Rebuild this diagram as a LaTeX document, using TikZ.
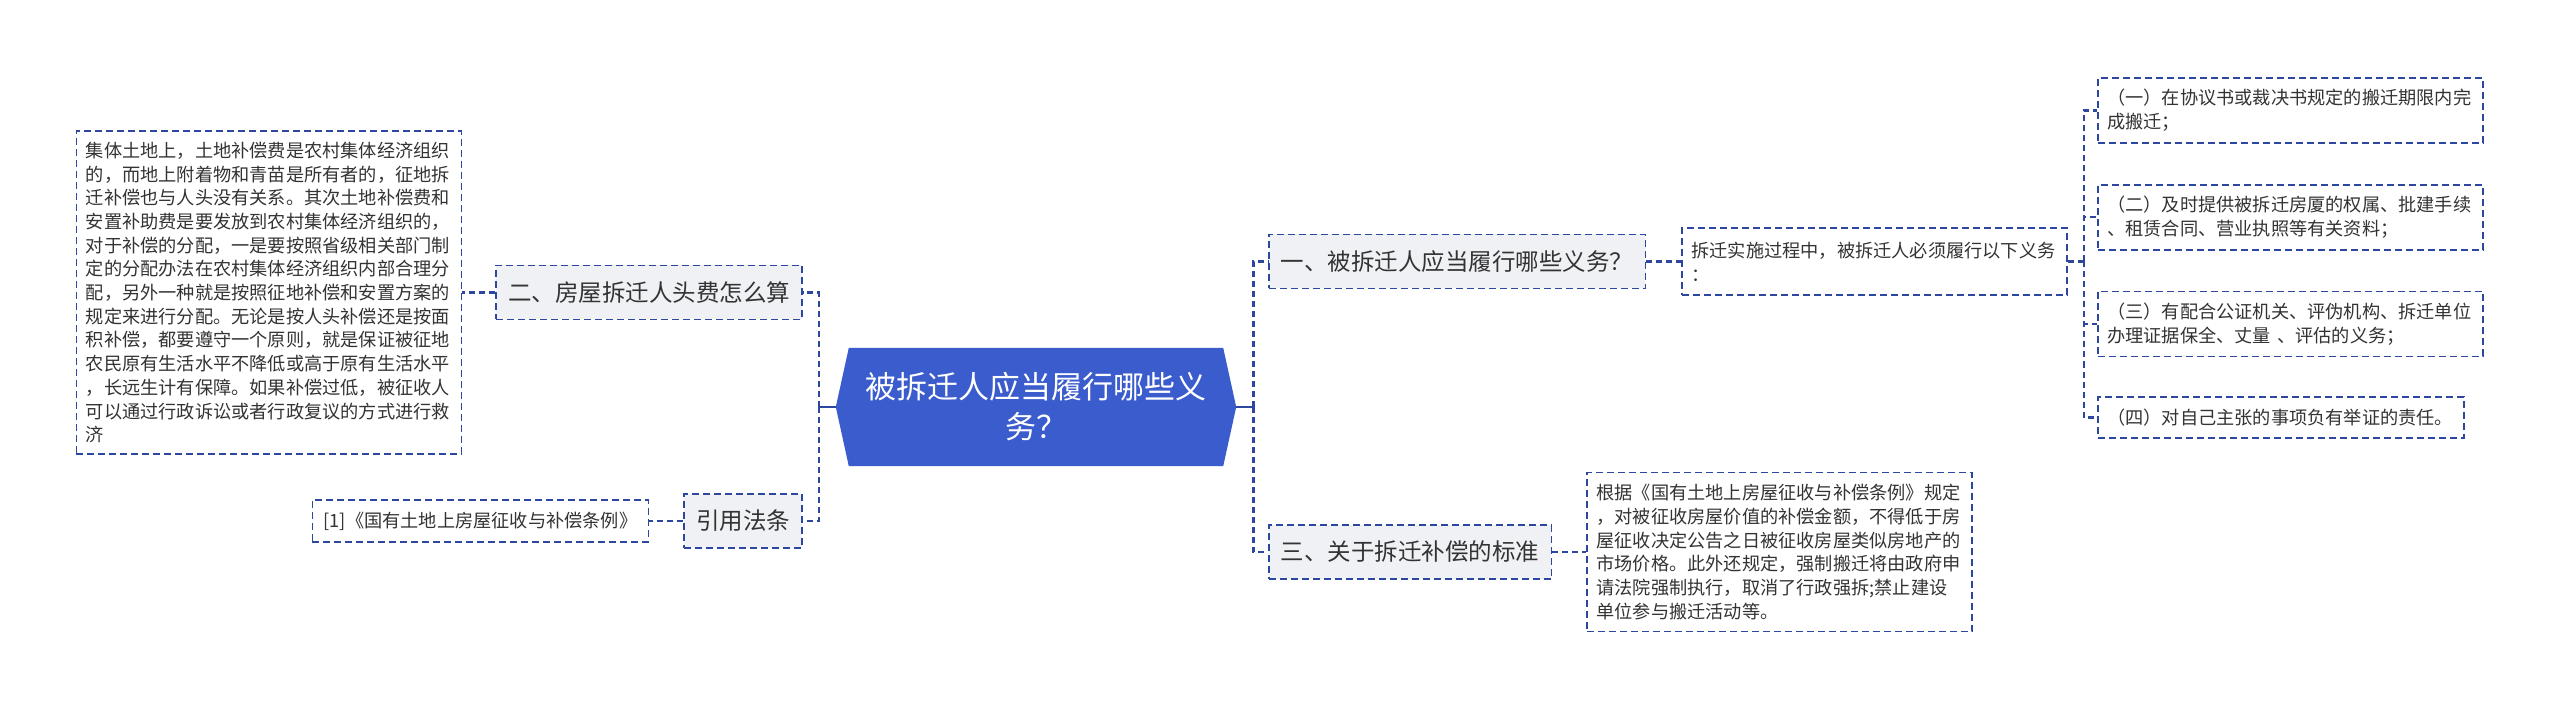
\documentclass[tikz,border=0pt]{standalone}
\usepackage{fontspec}
\newfontfamily\cjk{Noto Sans CJK SC}
\usepackage{tikz}
\usetikzlibrary{positioning,backgrounds}
\usepackage{xcolor}
\definecolor{TopicBlue}{RGB}{59,92,204}
\definecolor{LineBlue}{RGB}{45,70,160}
\definecolor{BoxGray}{RGB}{239,241,245}
\definecolor{InkText}{RGB}{51,51,51}

\begin{document}
\begin{tikzpicture}[
    x=1pt, y=-1pt,
    topic/.style={rectangle, minimum width=400pt, minimum height=118pt, inner sep=0pt,
        text=white, align=center, font=\cjk\fontsize{31pt}{40pt}\selectfont},
    card/.style={rectangle, draw=LineBlue, line width=1.7pt, dash pattern=on 7pt off 4pt, text=InkText},
    branch/.style={card, fill=BoxGray, inner xsep=12pt, minimum height=54pt,
        font=\cjk\fontsize{23.5pt}{28pt}\selectfont},
    note/.style={card, fill=white, inner xsep=9.5pt, inner ysep=6pt,
        font=\cjk\fontsize{18.2pt}{23.7pt}\selectfont},
    leaf/.style={note, text width=366pt, align=left},
    link/.style={draw=LineBlue, line width=2.6pt, dash pattern=on 6pt off 4pt},
    stem/.style={draw=LineBlue, line width=2.6pt}
]
\useasboundingbox (0,0) rectangle (2560,711);
\node[topic] (c) at (1036,407) {被拆迁人应当履行哪些义\\务？};
\begin{scope}[on background layer]
\fill[white] (0,0) rectangle (2560,711);
\fill[TopicBlue] (c.west) -- ([xshift=13pt]c.north west) -- ([xshift=-13pt]c.north east) -- (c.east)
    -- ([xshift=-13pt]c.south east) -- ([xshift=13pt]c.south west) -- cycle;
\end{scope}

\node[branch, anchor=east] (n2) at (803,292.5) {二、房屋拆迁人头费怎么算};
\node[branch, anchor=east] (law) at (803,521) {引用法条};
\node[branch, anchor=west] (n1) at (1268,261.5) {一、被拆迁人应当履行哪些义务？};
\node[branch, anchor=west] (n3) at (1268,552) {三、关于拆迁补偿的标准};

\node[leaf, left=33pt of n2, minimum height=323pt] (t2) {集体土地上，土地补偿费是农村集体经济组织\\的，而地上附着物和青苗是所有者的，征地拆\\迁补偿也与人头没有关系。其次土地补偿费和\\安置补助费是要发放到农村集体经济组织的，\\对于补偿的分配，一是要按照省级相关部门制\\定的分配办法在农村集体经济组织内部合理分\\配，另外一种就是按照征地补偿和安置方案的\\规定来进行分配。无论是按人头补偿还是按面\\积补偿，都要遵守一个原则，就是保证被征地\\农民原有生活水平不降低或高于原有生活水平\\，长远生计有保障。如果补偿过低，被征收人\\可以通过行政诉讼或者行政复议的方式进行救\\济};
\node[note, left=34pt of law, minimum width=336pt, minimum height=42pt] (ref) {[1]《国有土地上房屋征收与补偿条例》};
\node[leaf, right=35pt of n1, minimum height=67pt] (d1) {拆迁实施过程中，被拆迁人必须履行以下义务\\：};
\node[leaf, right=34pt of n3, minimum height=159pt] (d3) {根据《国有土地上房屋征收与补偿条例》规定\\，对被征收房屋价值的补偿金额，不得低于房\\屋征收决定公告之日被征收房屋类似房地产的\\市场价格。此外还规定，强制搬迁将由政府申\\请法院强制执行，取消了行政强拆;禁止建设\\单位参与搬迁活动等。};

\node[leaf, anchor=west, minimum height=65pt] (i1) at (2097,110.5) {（一）在协议书或裁决书规定的搬迁期限内完\\成搬迁；};
\node[leaf, below=40pt of i1, minimum height=65pt] (i2) {（二）及时提供被拆迁房厦的权属、批建手续\\、租赁合同、营业执照等有关资料；};
\node[leaf, below=40pt of i2, minimum height=65pt] (i3) {（三）有配合公证机关、评伪机构、拆迁单位\\办理证据保全、丈量 、评估的义务；};
\node[leaf, below=39pt of i3.south west, anchor=north west, text width=347pt, minimum height=41pt] (i4) {（四）对自己主张的事项负有举证的责任。};

\coordinate (lj) at ([xshift=-17pt]c.west);
\coordinate (rj) at ([xshift=17pt]c.east);
\coordinate (dj) at ([xshift=16pt]d1.east);
\draw[stem] (c.west) -- (lj) ++(0,-6) -- ++(0,12);
\draw[stem] (c.east) -- (rj) ++(0,-6) -- ++(0,12);
\draw[link] (lj) |- (n2.east);
\draw[link] (lj) |- (law.east);
\draw[link] (n2.west) -- (t2.east);
\draw[link] (law.west) -- (ref.east);
\draw[link] (rj) |- (n1.west);
\draw[link] (rj) |- (n3.west);
\draw[link] (n1.east) -- (d1.west);
\draw[link] (n3.east) -- (d3.west);
\draw[link] (d1.east) -- (dj);
\foreach \k in {i1,i2,i3,i4}
    \draw[link] (dj) |- (\k.west);
\end{tikzpicture}
\end{document}
